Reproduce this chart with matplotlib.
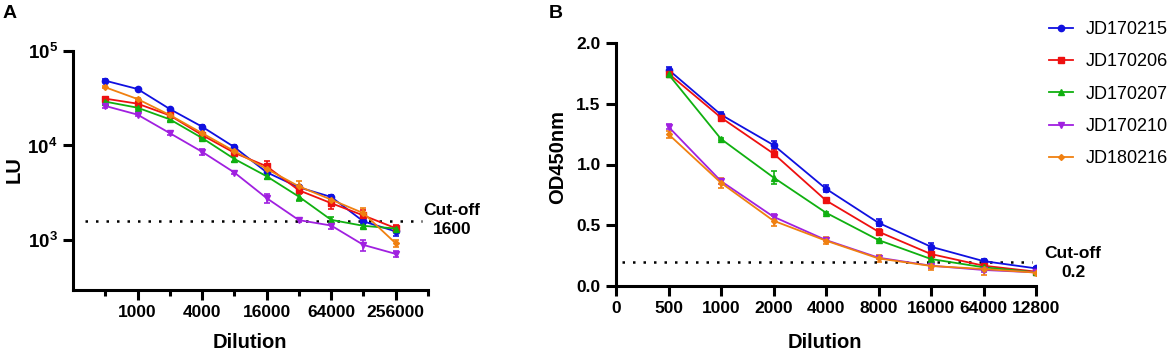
import matplotlib
matplotlib.use('Agg')
import matplotlib.pyplot as plt
import numpy as np
from matplotlib.lines import Line2D
from matplotlib.ticker import FixedLocator, NullLocator, NullFormatter

plt.rcParams['font.family'] = ['Liberation Sans', 'DejaVu Sans']
plt.rcParams['mathtext.fontset'] = 'custom'
plt.rcParams['mathtext.bf'] = 'Liberation Sans:bold'
plt.rcParams['mathtext.rm'] = 'Liberation Sans:bold'

# Sample names, colours and markers
samples = ['JD170215', 'JD170206', 'JD170207', 'JD170210', 'JD180216']
colors = ['#1010e0', '#ee1010', '#10b010', '#a020e0', '#f08010']
markers = ['o', 's', '^', 'v', 'D']

# Panel A: luciferase units vs dilution (log2 x, log10 y)
dil_a = [500, 1000, 2000, 4000, 8000, 16000, 32000, 64000, 128000, 256000]
lu = {
    'JD170215': [48500, 39600, 24300, 15800, 9600, 5200, 3600, 2850, 1570, 1230],
    'JD170206': [31300, 27700, 20800, 12900, 8360, 6020, 3350, 2450, 1815, 1330],
    'JD170207': [29100, 25100, 18900, 12000, 7200, 4720, 2870, 1630, 1410, 1320],
    'JD170210': [26200, 21200, 13500, 8570, 5170, 2770, 1620, 1420, 885, 711],
    'JD180216': [41300, 31000, 21000, 13500, 8700, 5650, 3690, 2670, 1920, 920],
}
lu_err = {
    'JD170215': [1500, 1200, 800, 500, 400, 300, 200, 150, 120, 120],
    'JD170206': [1500, 1000, 800, 700, 500, 800, 300, 350, 250, 100],
    'JD170207': [1200, 1000, 700, 600, 500, 300, 300, 100, 80, 60],
    'JD170210': [1500, 800, 500, 600, 200, 300, 80, 120, 120, 50],
    'JD180216': [1000, 800, 600, 500, 400, 400, 500, 200, 250, 80],
}
cutoff_a = 1600
major_a = [1000, 4000, 16000, 64000, 256000]
minor_a = [500, 2000, 8000, 32000, 128000, 512000]

# Panel B: OD450nm vs dilution (categorical x)
dil_b_labels = ['0', '500', '1000', '2000', '4000', '8000', '16000', '64000', '12800']
od = {
    'JD170215': [1.78, 1.41, 1.16, 0.80, 0.52, 0.323, 0.205, 0.145],
    'JD170206': [1.748, 1.386, 1.09, 0.704, 0.447, 0.263, 0.167, 0.118],
    'JD170207': [1.742, 1.21, 0.893, 0.603, 0.378, 0.222, 0.154, 0.112],
    'JD170210': [1.31, 0.863, 0.57, 0.378, 0.233, 0.167, 0.132, 0.112],
    'JD180216': [1.249, 0.849, 0.537, 0.373, 0.227, 0.165, 0.14, 0.11],
}
od_err = {
    'JD170215': [0.02, 0.02, 0.03, 0.03, 0.03, 0.03, 0.02, 0.015],
    'JD170206': [0.02, 0.02, 0.03, 0.02, 0.02, 0.04, 0.03, 0.02],
    'JD170207': [0.02, 0.01, 0.05, 0.01, 0.01, 0.02, 0.02, 0.02],
    'JD170210': [0.02, 0.02, 0.02, 0.01, 0.01, 0.02, 0.02, 0.01],
    'JD180216': [0.03, 0.04, 0.04, 0.03, 0.03, 0.03, 0.05, 0.02],
}
cutoff_b = 0.2

W, H = 1170, 357
fig = plt.figure(figsize=(W / 100, H / 100), dpi=100)

def box(l, t, r, b):
    return [l / W, 1 - b / H, (r - l) / W, (b - t) / H]

ax1 = fig.add_axes(box(73, 51, 428, 290))
ax2 = fig.add_axes(box(616, 43, 1036, 286))

def style(ax):
    for s in ['top', 'right']:
        ax.spines[s].set_visible(False)
    for s in ['left', 'bottom']:
        ax.spines[s].set_linewidth(2.2)
    ax.tick_params(which='major', length=7, width=2.2, labelsize=12.5, pad=4)
    ax.tick_params(which='minor', length=4, width=2.2)
    for lab in ax.get_xticklabels() + ax.get_yticklabels():
        lab.set_fontweight('bold')

def msize(m):
    return 3 if m == 'D' else 4.5

# Panel A
for name, c, m in zip(samples, colors, markers):
    ax1.errorbar(dil_a, lu[name], yerr=lu_err[name], color=c, marker=m,
                 markersize=msize(m), lw=1.3, elinewidth=1.2,
                 capsize=2.5, capthick=1.2)
ax1.set_xscale('log', base=2)
ax1.set_yscale('log')
ax1.set_xlim(250, 512000)
ax1.set_ylim(295, 1e5)
ax1.xaxis.set_major_locator(FixedLocator(major_a))
ax1.set_xticklabels([str(v) for v in major_a])
ax1.xaxis.set_minor_locator(FixedLocator(minor_a))
ax1.xaxis.set_minor_formatter(NullFormatter())
ax1.set_yticks([1e3, 1e4, 1e5])
ax1.set_yticklabels([r'$\mathbf{10^3}$', r'$\mathbf{10^4}$', r'$\mathbf{10^5}$'])
ax1.yaxis.set_minor_locator(NullLocator())
ax1.axhline(cutoff_a, xmin=0.034, xmax=0.983, color='black', ls=(0, (1, 3.2)), lw=1.8)
style(ax1)
ax1.tick_params(axis='y', labelsize=13.5)

# Panel B
xb = np.arange(1, len(dil_b_labels))
for name, c, m in zip(samples, colors, markers):
    ax2.errorbar(xb, od[name], yerr=od_err[name], color=c, marker=m,
                 markersize=msize(m), lw=1.3, elinewidth=1.2,
                 capsize=2.5, capthick=1.2)
ax2.set_xlim(0, len(dil_b_labels) - 1)
ax2.set_ylim(0, 2.0)
ax2.set_xticks(np.arange(len(dil_b_labels)))
ax2.set_xticklabels(dil_b_labels)
ax2.set_yticks([0, 0.5, 1.0, 1.5, 2.0])
ax2.set_yticklabels(['0.0', '0.5', '1.0', '1.5', '2.0'])
ax2.axhline(cutoff_b, xmin=0.014, xmax=0.99, color='black', ls=(0, (1, 3.2)), lw=1.8)
style(ax2)

# Legend: line + marker only, no error bars
handles = [Line2D([], [], color=c, marker=m, markersize=msize(m), lw=1.3)
           for c, m in zip(colors, markers)]
fig.legend(handles, samples, loc='upper left', bbox_to_anchor=(1049 / W, 1 - 21 / H),
           frameon=False, fontsize=13, borderpad=0, borderaxespad=0,
           handlelength=1.35, handletextpad=0.7, labelspacing=0.85)

# Text labels
fig.text(10 / W, 1 - 13 / H, 'A', fontsize=14, fontweight='bold', ha='center', va='center')
fig.text(556 / W, 1 - 13 / H, 'B', fontsize=14, fontweight='bold', ha='center', va='center')
fig.text(14 / W, 1 - 170 / H, 'LU', fontsize=14.5, fontweight='bold', rotation=90, ha='center', va='center')
fig.text(250 / W, 1 - 343 / H, 'Dilution', fontsize=14.5, fontweight='bold', ha='center', va='center')
fig.text(558 / W, 1 - 157 / H, 'OD450nm', fontsize=14.5, fontweight='bold', rotation=90, ha='center', va='center')
fig.text(825 / W, 1 - 343 / H, 'Dilution', fontsize=14.5, fontweight='bold', ha='center', va='center')
fig.text(452 / W, 1 - 220 / H, 'Cut-off\n1600', fontsize=12.5, fontweight='bold', ha='center', va='center', linespacing=1.3)
fig.text(1073 / W, 1 - 263 / H, 'Cut-off\n0.2', fontsize=12.5, fontweight='bold', ha='center', va='center', linespacing=1.3)

fig.savefig('out.png', dpi=100)
